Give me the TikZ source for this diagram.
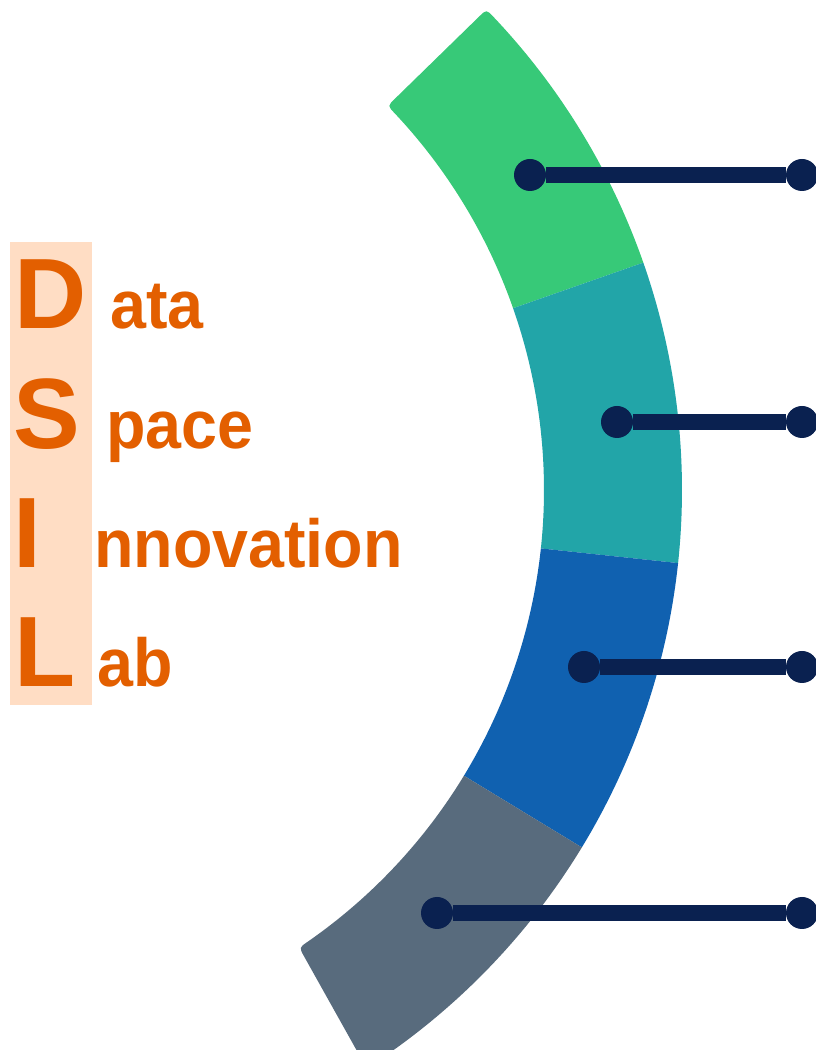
\documentclass[tikz,border=0pt]{standalone}
\usepackage{fontspec}
\setmainfont{Liberation Sans}
\usepackage{graphicx}
\usetikzlibrary{calc}
\definecolor{segA}{HTML}{37C978}
\definecolor{segB}{HTML}{22A5A8}
\definecolor{segC}{HTML}{1061B0}
\definecolor{segD}{HTML}{586B7D}
\definecolor{navy}{HTML}{0A2150}
\definecolor{orng}{HTML}{E35F00}
\definecolor{peach}{HTML}{FFDDC4}
\begin{document}
\begin{tikzpicture}[x=1pt,y=1pt,
  dotnode/.style={circle,fill=navy,inner sep=0pt,minimum size=32pt},
  conn/.style={draw=navy,line width=16pt},
  bigletter/.style={anchor=base west,inner sep=0pt,text=orng,font=\fontsize{100}{100}\selectfont\bfseries},
  smallword/.style={anchor=base west,inner sep=0pt,text=orng,font=\fontsize{68}{68}\selectfont\bfseries}]
\useasboundingbox (0,0) rectangle (816,1050);
\clip (0,0) rectangle (816,1050);
% ring
\begin{scope}[shift={(-6,560)}]
  \fill[segA] (19.3:550pt) arc[start angle=19.3,end angle=43.26,radius=550pt]
     .. controls (44.3:550pt) .. (44.3:560pt) -- (44.3:678pt)
     .. controls (44.3:688pt) .. (43.47:688pt)
     arc[start angle=43.47,end angle=19.3,radius=688pt] -- cycle;
  \fill[segB] (-6.1:550pt) arc[start angle=-6.1,end angle=19.3,radius=550pt]
     -- (19.3:688pt) arc[start angle=19.3,end angle=-6.1,radius=688pt] -- cycle;
  \fill[segC] (-31.3:550pt) arc[start angle=-31.3,end angle=-6.1,radius=550pt]
     -- (-6.1:688pt) arc[start angle=-6.1,end angle=-31.3,radius=688pt] -- cycle;
  \fill[segD] (-31.3:550pt) arc[start angle=-31.3,end angle=-55.26,radius=550pt]
     .. controls (-56.3:550pt) .. ($(-56.3:550pt)!10pt!(-57.2:688pt)$)
     -- (-57.2:688pt)
     arc[start angle=-57.2,end angle=-31.3,radius=688pt] -- cycle;
\end{scope}
% connectors
\node[dotnode] (a1) at (530,875) {};
\node[dotnode] (a2) at (802,875) {};
\node[dotnode] (b1) at (617,628) {};
\node[dotnode] (b2) at (802,628) {};
\node[dotnode] (c1) at (584,383) {};
\node[dotnode] (c2) at (802,383) {};
\node[dotnode] (d1) at (437,137) {};
\node[dotnode] (d2) at (802,137) {};
\draw[conn] (a1) -- (a2);
\draw[conn] (b1) -- (b2);
\draw[conn] (c1) -- (c2);
\draw[conn] (d1) -- (d2);
% DSIL
\fill[peach] (10,345) rectangle (92,808);
\node[bigletter] (lD) at (14,721) {D};
\node[bigletter] (lS) at (13,601) {S};
\node[bigletter] (lI) at (13,482) {I};
\node[bigletter] (lL) at (14,363) {L};
\node[smallword] (wD) at (110,721) {\scalebox{0.95}[1]{ata}};
\node[smallword] (wS) at (106,601) {\scalebox{0.95}[1]{pace}};
\node[smallword] (wI) at (94,482) {\scalebox{0.95}[1]{nnovation}};
\node[smallword] (wL) at (97,363) {\scalebox{0.95}[1]{ab}};
\end{tikzpicture}
\end{document}
